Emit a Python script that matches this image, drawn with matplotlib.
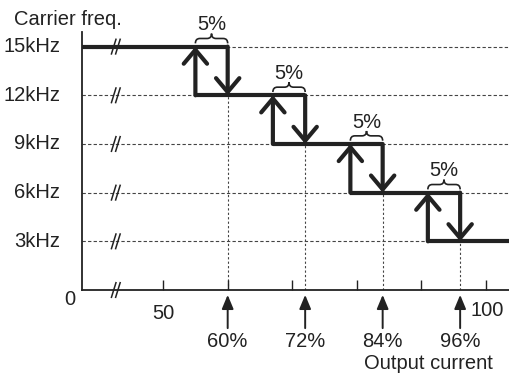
import matplotlib
matplotlib.use("Agg")
import matplotlib.pyplot as plt
from matplotlib.path import Path
from matplotlib.patches import PathPatch

# data
levels = [15, 12, 9, 6, 3]            # carrier freq steps (kHz)
level_labels = ["15kHz", "12kHz", "9kHz", "6kHz", "3kHz"]
up_points = [55, 67, 79, 91]          # % output current where freq goes back up
down_points = [60, 72, 84, 96]        # % output current where freq drops
down_labels = ["60%", "72%", "84%", "96%"]
hyst_label = "5%"
xtick_vals = [50, 60, 70, 80, 90, 100]
xtick_text = ["50", "", "", "", "", ""]

plt.rcParams['font.family'] = ['Liberation Sans Narrow', 'Liberation Sans', 'DejaVu Sans']
ink = "#222222"
fs = 14.5

fig = plt.figure(figsize=(5.10, 3.76), dpi=100)
ax = fig.add_axes([82/510, 86/376, 428/510, 258/376])
xmin, xmax = 37.44, 103.72
ax.set_xlim(xmin, xmax)
ax.set_ylim(0, 15.9)

for s in ["top", "right"]:
    ax.spines[s].set_visible(False)
for s in ["left", "bottom"]:
    ax.spines[s].set_color(ink)
    ax.spines[s].set_linewidth(1.3)

ax.set_yticks([])
ax.set_xticks(xtick_vals)
ax.set_xticklabels(xtick_text, fontsize=fs, color=ink)
ax.tick_params(axis="x", direction="in", length=7, width=1.0, color=ink, pad=10)

# dashed horizontal guide lines
for lv, lab in zip(levels, level_labels):
    ax.plot([xmin, xmax], [lv, lv], color="#444444", lw=0.8, ls=(0, (3, 2)), zorder=1)
    ax.text(xmin - 3.4, lv, lab, ha="right", va="center",
            fontsize=fs, color=ink, clip_on=False)

# dotted verticals at drop points
for i, xd in enumerate(down_points):
    ax.plot([xd, xd], [0, levels[i + 1]], color="#444444", lw=0.8, ls=(0, (2, 2)), zorder=1)

# axis break marks (two slanted strokes)
for lv in levels + [0]:
    for off in (-0.35, 0.3):
        xc = 42.7 + off
        ax.plot([xc - 0.35, xc + 0.35], [lv - 0.45, lv + 0.45], color=ink, lw=1.1,
                zorder=4, clip_on=False)

ax.text(xmin - 1.0, -0.6, "0", ha="right", va="center", fontsize=fs, color=ink)
ax.text(xmin - 10.5, 16.7, "Carrier freq.", ha="left", va="center", fontsize=fs,
        color=ink, clip_on=False)
ax.text(100.2, -1.25, "100", ha="center", va="center", fontsize=fs, color=ink, clip_on=False)

# thick step line
starts = [xmin] + up_points
ends = down_points + [xmax]
for lv, a, b in zip(levels, starts, ends):
    ax.plot([a, b], [lv, lv], color=ink, lw=3.0, solid_capstyle="butt", zorder=3, clip_on=False)

arrow_style = "->,head_length=0.5,head_width=0.42"
for i in range(len(up_points)):
    hi, lo = levels[i], levels[i + 1]
    ax.annotate("", xy=(up_points[i], hi), xytext=(up_points[i], lo),
                arrowprops=dict(arrowstyle=arrow_style, lw=3.0, color=ink,
                                shrinkA=0, shrinkB=0, mutation_scale=20), zorder=3)
    ax.annotate("", xy=(down_points[i], lo), xytext=(down_points[i], hi),
                arrowprops=dict(arrowstyle=arrow_style, lw=3.0, color=ink,
                                shrinkA=0, shrinkB=0, mutation_scale=20), zorder=3)

    # brace with 5%
    x0, x1 = up_points[i], down_points[i]
    xm = (x0 + x1) / 2
    y, h, d = hi + 0.2, 0.6, 0.7
    verts = [(x0, y), (x0, y + h / 2), (x0 + d, y + h / 2),
             (xm - d, y + h / 2), (xm, y + h / 2), (xm, y + h),
             (xm, y + h / 2), (xm + d, y + h / 2),
             (x1 - d, y + h / 2), (x1, y + h / 2), (x1, y)]
    codes = [Path.MOVETO, Path.CURVE3, Path.CURVE3, Path.LINETO, Path.CURVE3, Path.CURVE3,
             Path.CURVE3, Path.CURVE3, Path.LINETO, Path.CURVE3, Path.CURVE3]
    ax.add_patch(PathPatch(Path(verts, codes), fill=False, ec=ink, lw=1.2, clip_on=False))
    ax.text(xm, y + h + 0.55, hyst_label, ha="center", va="center", fontsize=fs,
            color=ink, clip_on=False)

# arrows and labels below the axis
for xd, lab in zip(down_points, down_labels):
    ax.annotate("", xy=(xd, -0.3), xytext=(xd, -2.35), annotation_clip=False,
                arrowprops=dict(arrowstyle="-|>,head_length=0.6,head_width=0.25", lw=1.4,
                                color=ink, shrinkA=0, shrinkB=0, mutation_scale=14))
    ax.text(xd, -3.2, lab, ha="center", va="center", fontsize=fs, color=ink, clip_on=False)

ax.text(91.1, -4.55, "Output current", ha="center", va="center", fontsize=fs,
        color=ink, clip_on=False)

fig.savefig("out.png", dpi=100)
